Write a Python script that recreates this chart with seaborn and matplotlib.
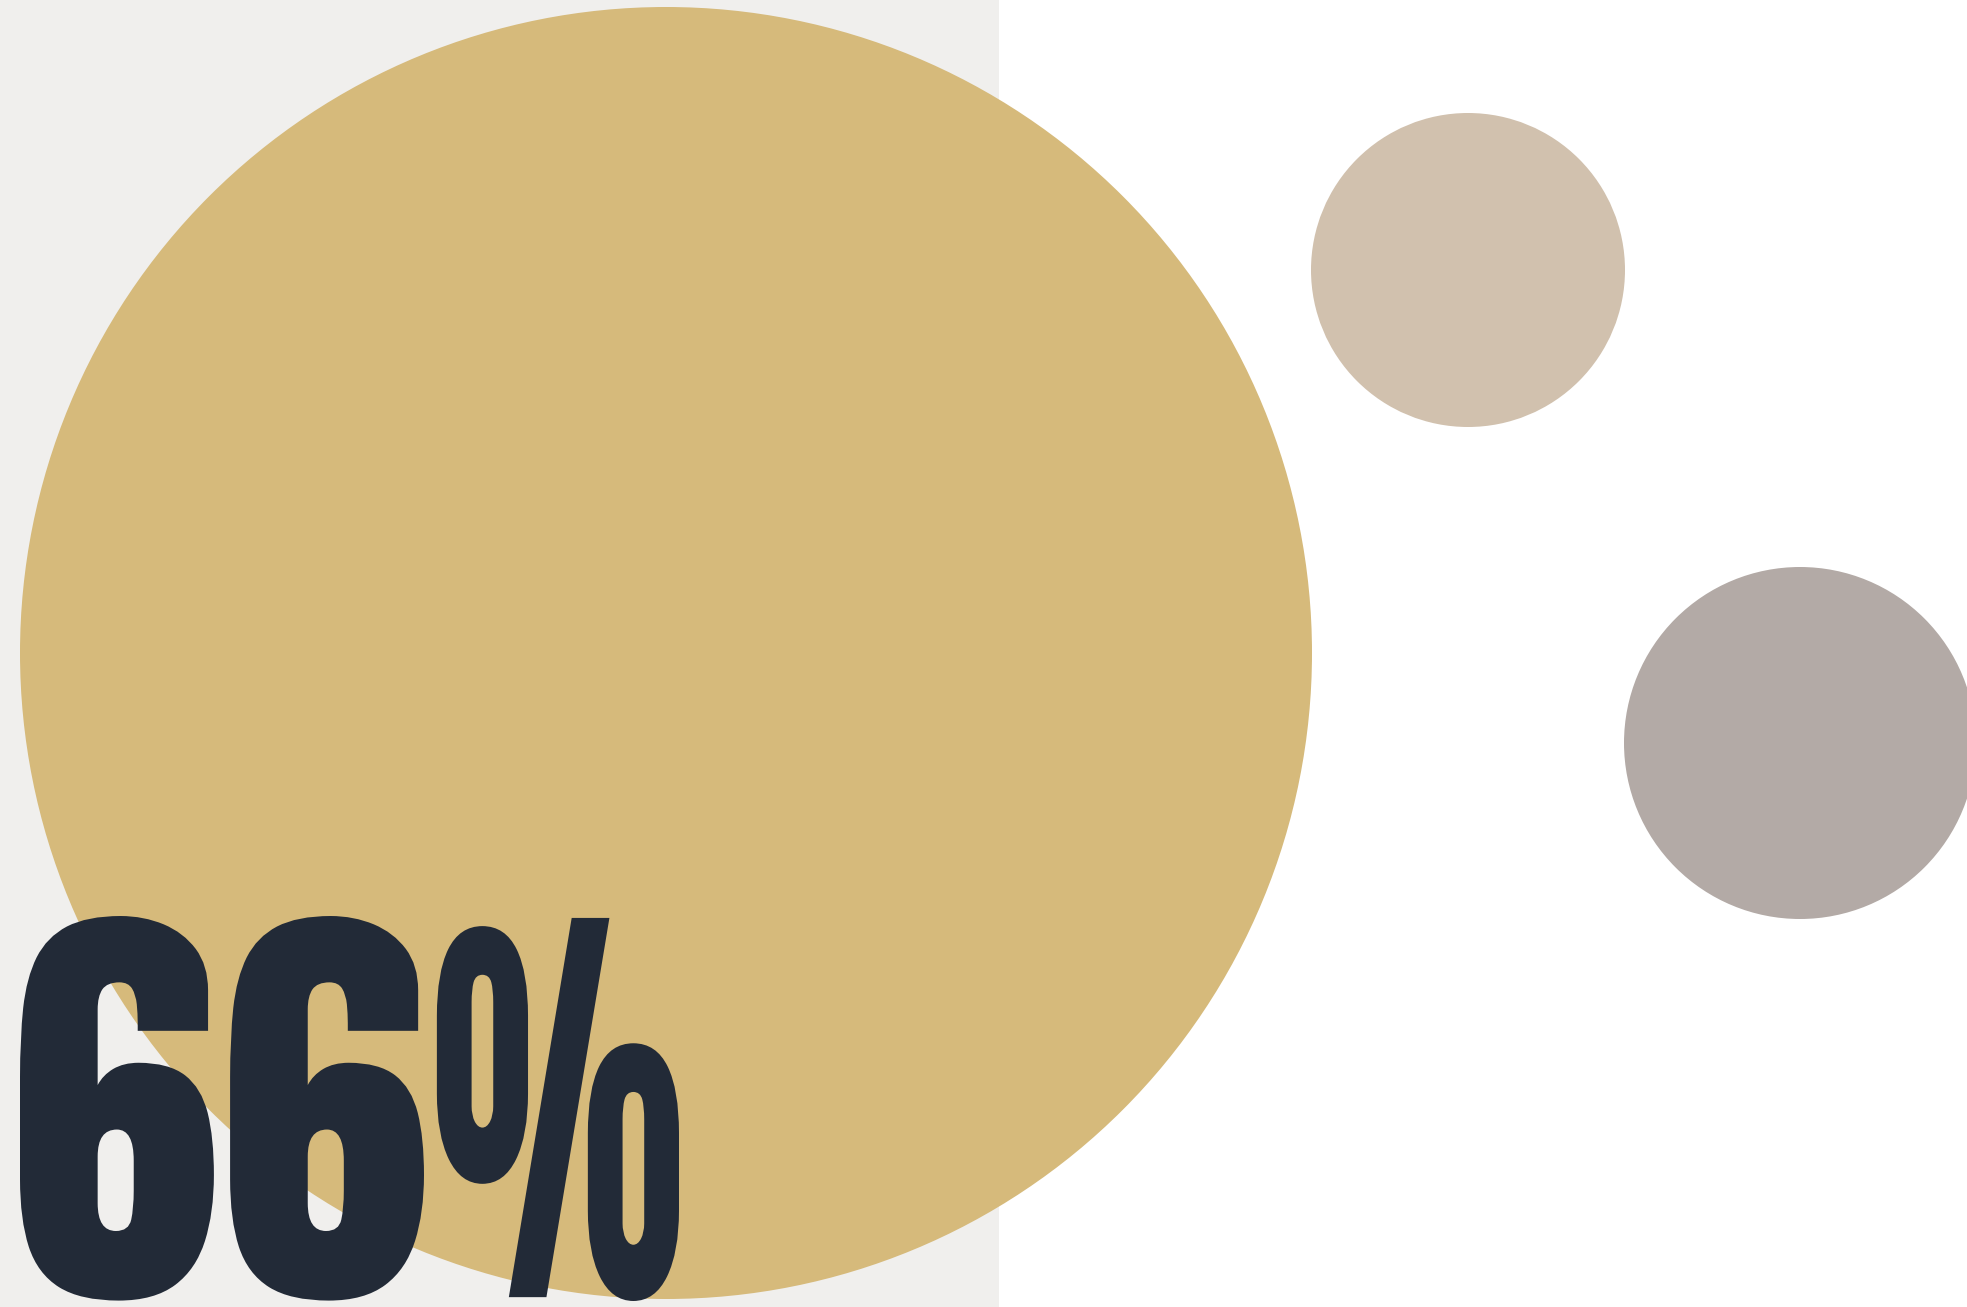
"""
Big "66%" stat card with decorative circles.
"""

import matplotlib
matplotlib.use("Agg")
import matplotlib.pyplot as plt
import seaborn as sns
from matplotlib.font_manager import FontProperties
from matplotlib.patches import Circle
from matplotlib.path import Path
from matplotlib.patheffects import AbstractPathEffect
from matplotlib.textpath import TextPath

# circles: big gold one, light taupe, grey taupe
circle_x = [666, 1468, 1800]
circle_y = [653, 270, 743]
circle_r = [646, 157, 176]
circle_colors = ["#D6BA7B", "#D1C1AE", "#B3AAA6"]

panel_right = 999          # light grey panel on the left
label = "66%"

W, H = 1967, 1307
bg_grey = "#F0EFED"
ink = "#222A37"
fonts = ["Anton", "Oswald", "DejaVu Sans"]

# where the ink of the label sits in the picture (px)
num_left, num_right = 20, 424
pct_left, pct_right = 432, 679
ink_top, ink_bottom = 916, 1301


class Condense(AbstractPathEffect):
    """narrow the digits and the % sign by their own factors"""

    def __init__(self, split, num_x0, pct_x0, s_num, s_pct, pct_off):
        super().__init__()
        self.split, self.num_x0, self.pct_x0 = split, num_x0, pct_x0
        self.s_num, self.s_pct, self.pct_off = s_num, s_pct, pct_off

    def draw_path(self, renderer, gc, tpath, affine, rgbFace=None):
        v = tpath.vertices.copy()
        left = v[:, 0] < self.split
        v[left, 0] = (v[left, 0] - self.num_x0) * self.s_num
        v[~left, 0] = self.pct_off + (v[~left, 0] - self.pct_x0) * self.s_pct
        gc0 = renderer.new_gc()
        gc0.copy_properties(gc)
        gc0.set_linewidth(0)
        renderer.draw_path(gc0, Path(v, tpath.codes), affine, rgbFace)
        gc0.restore()


sns.set_theme(style="white")
plt.rcParams["font.family"] = fonts

# measure the glyphs (1 em = 100 units) to size the label
fp = FontProperties(family=fonts)
tp_all = TextPath((0, 0), label, size=100, prop=fp)
e_all = tp_all.get_extents()
e_num = TextPath((0, 0), label[:-1], size=100, prop=fp).get_extents()
split = e_num.x1 + 1
vx = tp_all.vertices[:, 0]
pct_x0 = vx[vx > split].min()
pct_x1 = e_all.x1

k = (ink_bottom - ink_top) / (e_all.y1 - e_all.y0)      # px per unit
size_pt = k * 100 * 72 / 100
s_num = (num_right - num_left) / ((e_num.x1 - e_num.x0) * k)
s_pct = (pct_right - pct_left) / ((pct_x1 - pct_x0) * k)
pct_off = (pct_left - num_left) / k
baseline = ink_bottom + e_all.y0 * k

fig = plt.figure(figsize=(W / 100, H / 100), dpi=100)
ax = fig.add_axes([0, 0, 1, 1])
ax.set_xlim(0, W)
ax.set_ylim(H, 0)
ax.axis("off")
fig.patch.set_facecolor("white")

ax.axvspan(0, panel_right, color=bg_grey, lw=0, zorder=0)

for x, y, r, c in zip(circle_x, circle_y, circle_r, sns.color_palette(circle_colors)):
    ax.add_patch(Circle((x, y), r, facecolor=c, edgecolor="none", zorder=1))

ax.text(num_left, baseline, label, ha="left", va="baseline", fontsize=size_pt,
        color=ink, zorder=3,
        path_effects=[Condense(split, e_num.x0, pct_x0, s_num, s_pct, pct_off)])

fig.savefig("out.png", dpi=100)
